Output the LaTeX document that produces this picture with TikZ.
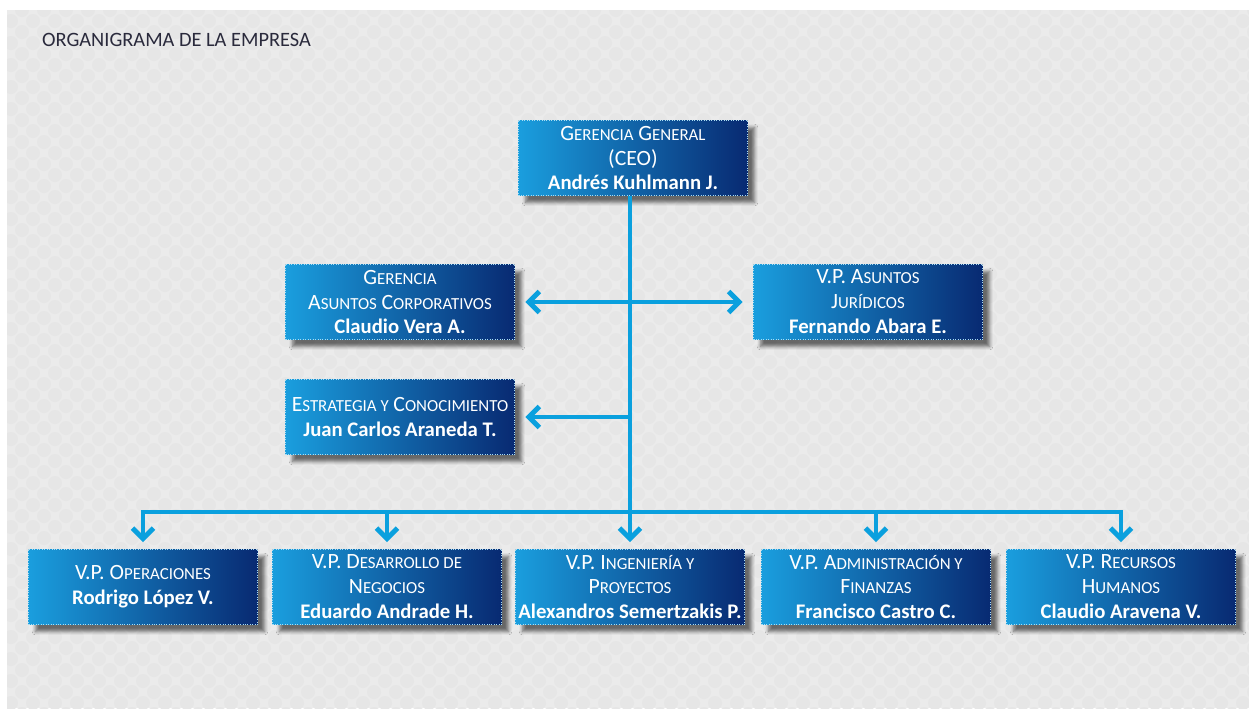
\documentclass[tikz,border=0pt]{standalone}
\usepackage{fontspec}
\setmainfont{Carlito}
\usepackage{tikz}
\usetikzlibrary{arrows.meta, positioning, shadows, shadows.blur}
\definecolor{orgLink}{HTML}{0AA0DE}
\definecolor{orgLight}{HTML}{1A9EDE}
\definecolor{orgDark}{HTML}{082A72}
\definecolor{orgPaper}{HTML}{EBEBEB}
\definecolor{orgDot}{HTML}{E6E6E6}
\definecolor{orgTitle}{HTML}{2A2A3C}
\newcommand{\smc}[1]{{\fontsize{9.6}{14.2}\selectfont #1}}
\newcommand{\bigc}[1]{{\fontsize{12.4}{14.2}\selectfont #1}}

\begin{document}
\begin{tikzpicture}[
  x=0.02cm, y=-0.02cm,
  font=\fontsize{11.8}{14.2}\selectfont,
  box/.style={draw=white!65!orgLink, densely dotted, left color=orgLight, right color=orgDark,
              text=white, minimum width=4.58cm, minimum height=1.5cm, inner sep=1pt, align=center,
              blur shadow={shadow xshift=4pt, shadow yshift=-4pt, shadow blur steps=6, shadow opacity=55}},
  link/.style={draw=orgLink, line width=2.8pt},
  a/.style={link, -{Straight Barb[length=6pt, width=12pt]}, shorten >=4pt}
]
\useasboundingbox (0,0) rectangle (1249,708);
% paper background
\fill[orgPaper] (7,10) rectangle (1249,708);
\begin{scope}
  \clip (7,10) rectangle (1249,708);
  \foreach \r in {0,...,64}
    \foreach \c in {0,...,57}
      \fill[orgDot] ({\c*22 + mod(\r,2)*11}, {10 + \r*11}) circle (0.14cm);
\end{scope}

\node[anchor=west, text=orgTitle, font=\fontsize{11.6}{13}\selectfont] (title) at (36,40) {ORGANIGRAMA DE LA EMPRESA};

\node[box] (ceo) at (633,158) {\bigc{G}\smc{ERENCIA} \bigc{G}\smc{ENERAL}\\\bigc{(CEO)}\\\textbf{Andrés Kuhlmann J.}};
\node[box] (corp) at (400,302) {\bigc{G}\smc{ERENCIA}\\\bigc{A}\smc{SUNTOS} \bigc{C}\smc{ORPORATIVOS}\\\textbf{Claudio Vera A.}};
\node[box] (jur) at (868,302) {\bigc{V.P. A}\smc{SUNTOS}\\\bigc{J}\smc{URÍDICOS}\\\textbf{Fernando Abara E.}};
\node[box] (est) at (400,417) {\bigc{E}\smc{STRATEGIA Y} \bigc{C}\smc{ONOCIMIENTO}\\\textbf{Juan Carlos Araneda T.}};

\node[box] (ops) at (143,587) {\bigc{V.P. O}\smc{PERACIONES}\\\textbf{Rodrigo López V.}};
\node[box] (neg) at (387,587) {\bigc{V.P. D}\smc{ESARROLLO DE}\\\bigc{N}\smc{EGOCIOS}\\\textbf{Eduardo Andrade H.}};
\node[box] (ing) at (630,587) {\bigc{V.P. I}\smc{NGENIERÍA Y}\\\bigc{P}\smc{ROYECTOS}\\\textbf{Alexandros Semertzakis P.}};
\node[box] (adm) at (876,587) {\bigc{V.P. A}\smc{DMINISTRACIÓN Y}\\\bigc{F}\smc{INANZAS}\\\textbf{Francisco Castro C.}};
\node[box] (rh) at (1121,587) {\bigc{V.P. R}\smc{ECURSOS}\\\bigc{H}\smc{UMANOS}\\\textbf{Claudio Aravena V.}};

\coordinate (hub) at (630,512);

% trunk and side links
\draw[link] (ceo.south -| hub) -- (hub);
\draw[a, {Straight Barb[length=6pt, width=12pt]}-{Straight Barb[length=6pt, width=12pt]}, shorten <=6pt, shorten >=6pt] (corp.east) -- (jur.west);
\draw[a, shorten >=6pt] (est.east -| hub) -- (est.east);

% bus to the vice presidencies
\draw[a] (hub) -| (ops.north);
\draw[a] (hub) -| (rh.north);
\draw[a] (neg.north |- hub) -- (neg.north);
\draw[a] (hub) -- (ing.north);
\draw[a] (adm.north |- hub) -- (adm.north);
\end{tikzpicture}
\end{document}
